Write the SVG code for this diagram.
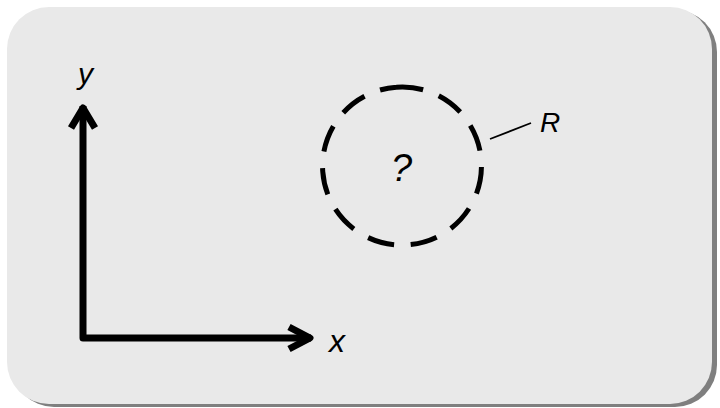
<svg xmlns="http://www.w3.org/2000/svg" width="720" height="408" viewBox="0 0 720 408">
<style>
.ax{fill:none;stroke:#000;stroke-width:7;stroke-linecap:butt;stroke-linejoin:round}
.lbl{font-family:"Liberation Sans",Arial,sans-serif;font-style:italic;fill:#000}
</style>
<rect width="720" height="408" fill="#ffffff"/>
<g id="panel">
<rect x="12" y="10" width="705" height="397" rx="42" ry="42" fill="#7f7f7f"/>
<rect x="7" y="7" width="705" height="397" rx="42" ry="42" fill="#e9e9e9"/>
</g>
<g id="connectors">
<polyline class="ax" points="83,106 83,338 311,338"/>
<polyline class="ax" points="71,128 83,108 95,128"/>
<polyline class="ax" points="289,327 310,338 289,349"/>
<line x1="490" y1="139" x2="531" y2="123" stroke="#000" stroke-width="1.8"/>
</g>
<g id="y-label"><text class="lbl" x="78" y="84" font-size="30">y</text></g>
<g id="x-label"><text class="lbl" x="329" y="352" font-size="32">x</text></g>
<g id="circle">
<path d="M396.4 87.2 A79 79 0 1 1 407.6 244.8 A79 79 0 1 1 396.4 87.2" fill="none" stroke="#000" stroke-width="5" stroke-dasharray="27 16.7"/>
<text class="lbl" x="391" y="181" font-size="38">?</text>
</g>
<g id="R-label"><text class="lbl" x="540" y="132" font-size="28">R</text></g>
</svg>
